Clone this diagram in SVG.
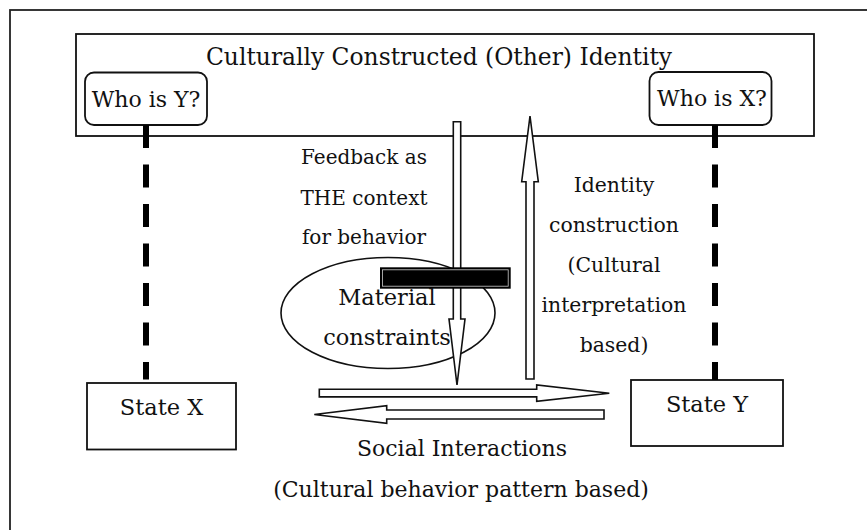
<svg xmlns="http://www.w3.org/2000/svg" width="867" height="530" viewBox="0 0 867 530">
<style>
  .box { fill: #fff; stroke: #111; stroke-width: 1.8; }
  .t { font-family: "DejaVu Serif", "Liberation Serif", serif; fill: #111; text-anchor: middle; }
  .dash { stroke: #000; stroke-width: 6; stroke-dasharray: 23 16.5; fill: none; }
  .arrow { fill: #fff; stroke: #111; stroke-width: 1.6; stroke-linejoin: miter; }
</style>
<rect x="0" y="0" width="867" height="530" fill="#fff"/>
<g id="frame">
  <rect x="10" y="10" width="880" height="540" fill="none" stroke="#222" stroke-width="1.8"/>
</g>
<g id="identity">
  <rect class="box" x="76" y="34" width="738" height="102"/>
  <text class="t" x="439" y="65" font-size="23.4">Culturally Constructed (Other) Identity</text>
</g>
<g id="who-is-y">
  <rect class="box" x="85" y="72.5" width="122" height="52.5" rx="9"/>
  <text class="t" x="146" y="107" font-size="22">Who is Y?</text>
</g>
<g id="who-is-x">
  <rect class="box" x="649.5" y="72" width="122" height="53" rx="9"/>
  <text class="t" x="712" y="106" font-size="22">Who is X?</text>
</g>
<g id="state-x">
  <rect class="box" x="87" y="383" width="149" height="66.5"/>
  <text class="t" x="161.5" y="415" font-size="22.5">State X</text>
</g>
<g id="state-y">
  <rect class="box" x="631" y="380" width="152" height="66"/>
  <text class="t" x="707" y="412" font-size="22.5">State Y</text>
</g>
<g id="material">
  <ellipse cx="388" cy="313" rx="107" ry="55.5" fill="none" stroke="#111" stroke-width="1.6"/>
</g>
<g id="labels">
  <text class="t" x="364" y="164" font-size="20">Feedback as</text>
  <text class="t" x="364" y="205" font-size="20">THE context</text>
  <text class="t" x="364" y="244" font-size="20">for behavior</text>
  <text class="t" x="614" y="192" font-size="20.4">Identity</text>
  <text class="t" x="614" y="232" font-size="20.4">construction</text>
  <text class="t" x="614" y="272" font-size="20.4">(Cultural</text>
  <text class="t" x="614" y="312" font-size="20.4">interpretation</text>
  <text class="t" x="614" y="352" font-size="20.4">based)</text>
  <text class="t" x="462" y="456" font-size="22">Social Interactions</text>
  <text class="t" x="461" y="497" font-size="22">(Cultural behavior pattern based)</text>
</g>
<g id="connectors">
  <line class="dash" x1="146" y1="125" x2="146" y2="379.5"/>
  <line class="dash" x1="715" y1="125" x2="715" y2="380"/>
  <polygon class="arrow" points="453.3,121.7 460.7,121.7 460.7,319 465,319 457,385 449,319 453.3,319"/>
  <polygon class="arrow" points="526,379 534,379 534,181.7 538.3,181.7 530,116 521.7,181.7 526,181.7"/>
  <polygon class="arrow" points="319.3,389.3 536.7,389.3 536.7,385 609.3,393.2 536.7,401.3 536.7,396.9 319.3,396.9"/>
  <polygon class="arrow" points="604,410 386.7,410 386.7,405.7 314.3,414.5 386.7,423.3 386.7,419 604,419"/>
</g>
<g id="bar">
  <rect x="380" y="267.3" width="130.7" height="21.4" fill="#000"/>
  <rect x="382.5" y="269.8" width="125.7" height="16.4" fill="none" stroke="#fff" stroke-width="0.8" opacity="0.8"/>
</g>
<g id="material-text">
  <text class="t" x="387" y="305" font-size="22.5">Material</text>
  <text class="t" x="387" y="345" font-size="22.5">constraints</text>
</g>
</svg>
